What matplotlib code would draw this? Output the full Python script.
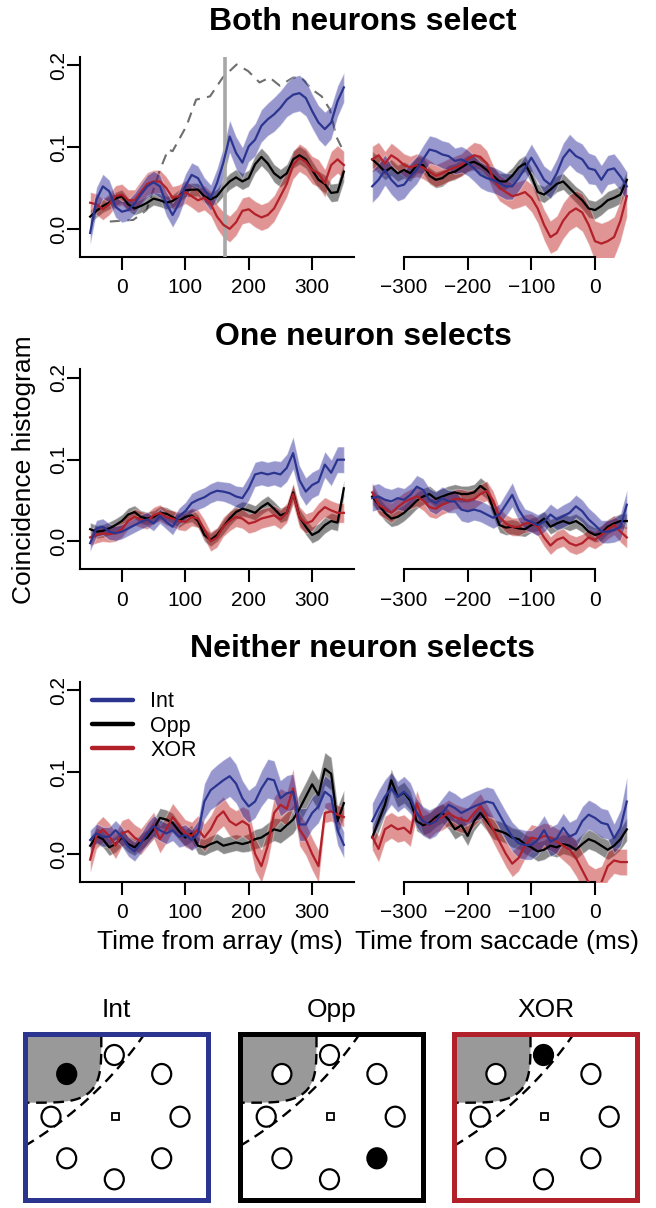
import matplotlib
matplotlib.use('Agg')
import matplotlib.pyplot as plt
from matplotlib.patches import Rectangle, Ellipse, Polygon
from matplotlib.lines import Line2D
import numpy as np

plt.rcParams['font.family'] = ['Liberation Sans', 'DejaVu Sans']

# time axes (ms)
t_array = list(range(-50, 351, 10))
t_sacc = list(range(-350, 51, 10))

# ---- Both neurons select ----
both_arr_int = [-0.005, 0.036, 0.052, 0.046, 0.027, 0.021, 0.023, 0.031, 0.042, 0.052,
                0.057, 0.052, 0.031, 0.017, 0.031, 0.052, 0.066, 0.062, 0.048, 0.038,
                0.056, 0.081, 0.113, 0.093, 0.081, 0.101, 0.109, 0.126, 0.134, 0.140,
                0.148, 0.158, 0.164, 0.166, 0.160, 0.144, 0.130, 0.122, 0.130, 0.156, 0.173]
both_arr_int_se = [0.014, 0.015, 0.015, 0.014, 0.013, 0.013, 0.013, 0.013, 0.013, 0.014,
                   0.014, 0.014, 0.015, 0.015, 0.015, 0.015, 0.015, 0.015, 0.015, 0.016,
                   0.018, 0.019, 0.020, 0.020, 0.019, 0.019, 0.020, 0.020, 0.020, 0.021,
                   0.021, 0.021, 0.022, 0.022, 0.022, 0.021, 0.021, 0.021, 0.020, 0.019, 0.018]
both_arr_opp = [0.015, 0.022, 0.028, 0.032, 0.037, 0.040, 0.030, 0.025, 0.028, 0.032,
                0.037, 0.035, 0.032, 0.034, 0.040, 0.047, 0.048, 0.048, 0.040, 0.036,
                0.040, 0.050, 0.058, 0.063, 0.058, 0.062, 0.079, 0.088, 0.080, 0.068,
                0.062, 0.068, 0.085, 0.090, 0.085, 0.072, 0.060, 0.055, 0.044, 0.045, 0.070]
both_arr_opp_se = [0.008, 0.008, 0.008, 0.008, 0.008, 0.008, 0.008, 0.008, 0.008, 0.008,
                   0.008, 0.008, 0.008, 0.008, 0.008, 0.008, 0.008, 0.008, 0.008, 0.008,
                   0.009, 0.010, 0.010, 0.010, 0.010, 0.010, 0.011, 0.011, 0.011, 0.011,
                   0.011, 0.011, 0.011, 0.011, 0.011, 0.011, 0.011, 0.011, 0.011, 0.011, 0.012]
both_arr_xor = [0.032, 0.030, 0.024, 0.030, 0.040, 0.042, 0.035, 0.035, 0.045, 0.055,
                0.058, 0.058, 0.050, 0.038, 0.040, 0.045, 0.040, 0.035, 0.038, 0.031,
                0.015, 0.005, 0.000, 0.008, 0.022, 0.024, 0.018, 0.014, 0.017, 0.025,
                0.040, 0.055, 0.078, 0.087, 0.082, 0.072, 0.068, 0.056, 0.078, 0.085, 0.078]
both_arr_xor_se = [0.013, 0.013, 0.013, 0.013, 0.013, 0.013, 0.013, 0.013, 0.014, 0.014,
                   0.014, 0.014, 0.014, 0.014, 0.014, 0.014, 0.014, 0.015, 0.015, 0.015,
                   0.015, 0.016, 0.016, 0.016, 0.016, 0.016, 0.016, 0.016, 0.016, 0.016,
                   0.016, 0.016, 0.017, 0.017, 0.017, 0.017, 0.017, 0.017, 0.017, 0.017, 0.017]

both_sac_int = [0.052, 0.060, 0.072, 0.060, 0.052, 0.054, 0.064, 0.072, 0.085, 0.097,
                0.095, 0.091, 0.089, 0.083, 0.085, 0.081, 0.074, 0.066, 0.062, 0.060,
                0.056, 0.052, 0.052, 0.062, 0.074, 0.087, 0.074, 0.060, 0.054, 0.068,
                0.087, 0.097, 0.089, 0.085, 0.074, 0.072, 0.060, 0.072, 0.074, 0.064, 0.052]
both_sac_int_se = [0.020, 0.020, 0.019, 0.018, 0.018, 0.017, 0.017, 0.017, 0.017, 0.017,
                   0.017, 0.017, 0.017, 0.016, 0.016, 0.016, 0.016, 0.016, 0.016, 0.016,
                   0.016, 0.016, 0.016, 0.016, 0.016, 0.017, 0.017, 0.017, 0.017, 0.018,
                   0.018, 0.019, 0.019, 0.019, 0.019, 0.018, 0.018, 0.018, 0.018, 0.018, 0.018]
both_sac_opp = [0.085, 0.078, 0.070, 0.075, 0.068, 0.072, 0.068, 0.078, 0.078, 0.065,
                0.060, 0.062, 0.068, 0.070, 0.075, 0.080, 0.082, 0.078, 0.072, 0.065,
                0.058, 0.058, 0.065, 0.075, 0.080, 0.065, 0.045, 0.042, 0.048, 0.055,
                0.058, 0.050, 0.042, 0.035, 0.025, 0.023, 0.028, 0.035, 0.038, 0.042, 0.060]
both_sac_opp_se = [0.010, 0.010, 0.010, 0.010, 0.010, 0.010, 0.010, 0.010, 0.010, 0.010,
                   0.010, 0.010, 0.010, 0.010, 0.010, 0.010, 0.010, 0.010, 0.010, 0.010,
                   0.010, 0.010, 0.010, 0.010, 0.010, 0.010, 0.010, 0.010, 0.010, 0.010,
                   0.010, 0.010, 0.010, 0.011, 0.011, 0.011, 0.011, 0.011, 0.011, 0.011, 0.011]
both_sac_xor = [0.085, 0.090, 0.080, 0.090, 0.085, 0.078, 0.075, 0.078, 0.075, 0.070,
                0.065, 0.068, 0.072, 0.075, 0.078, 0.085, 0.090, 0.088, 0.080, 0.062,
                0.050, 0.045, 0.040, 0.042, 0.045, 0.038, 0.025, 0.005, -0.010, -0.005,
                0.010, 0.020, 0.025, 0.020, 0.005, -0.015, -0.018, -0.015, -0.010, 0.010, 0.040]
both_sac_xor_se = [0.016, 0.016, 0.015, 0.015, 0.014, 0.014, 0.014, 0.014, 0.014, 0.014,
                   0.014, 0.014, 0.014, 0.014, 0.014, 0.015, 0.016, 0.016, 0.016, 0.016,
                   0.016, 0.016, 0.016, 0.016, 0.016, 0.017, 0.018, 0.019, 0.020, 0.021,
                   0.022, 0.022, 0.022, 0.023, 0.024, 0.025, 0.025, 0.025, 0.025, 0.025, 0.025]

# firing rate trace (scaled), both-select array panel
rate_t = [-19, 18, 39, 60, 73, 80, 102, 117, 139, 159, 181, 199, 217, 233, 249,
          270, 283, 299, 315, 328, 338, 348]
rate_v = [0.009, 0.011, 0.023, 0.072, 0.097, 0.095, 0.126, 0.158, 0.162, 0.185, 0.201,
          0.193, 0.179, 0.185, 0.175, 0.185, 0.185, 0.171, 0.162, 0.146, 0.113, 0.097]
sel_time = 162

# ---- One neuron selects ----
one_arr_int = [-0.002, 0.016, 0.018, 0.012, 0.010, 0.012, 0.016, 0.020, 0.024, 0.027,
               0.022, 0.031, 0.024, 0.018, 0.031, 0.037, 0.047, 0.051, 0.054, 0.059,
               0.062, 0.061, 0.059, 0.055, 0.053, 0.065, 0.082, 0.084, 0.082, 0.084,
               0.082, 0.090, 0.108, 0.075, 0.061, 0.069, 0.073, 0.094, 0.084, 0.100, 0.100]
one_arr_int_se = [0.010, 0.010, 0.010, 0.010, 0.009, 0.009, 0.009, 0.009, 0.009, 0.009,
                  0.009, 0.009, 0.009, 0.010, 0.010, 0.011, 0.012, 0.012, 0.012, 0.012,
                  0.012, 0.012, 0.013, 0.013, 0.014, 0.015, 0.015, 0.015, 0.015, 0.015,
                  0.016, 0.017, 0.020, 0.018, 0.017, 0.016, 0.016, 0.016, 0.016, 0.016, 0.016]
one_arr_opp = [0.015, 0.012, 0.013, 0.016, 0.020, 0.025, 0.033, 0.036, 0.030, 0.028,
               0.030, 0.035, 0.034, 0.030, 0.025, 0.030, 0.032, 0.025, 0.008, 0.002,
               0.008, 0.018, 0.028, 0.036, 0.040, 0.038, 0.035, 0.042, 0.047, 0.040,
               0.032, 0.035, 0.060, 0.030, 0.018, 0.008, 0.012, 0.020, 0.025, 0.023, 0.065]
one_arr_opp_se = [0.008, 0.008, 0.008, 0.008, 0.008, 0.008, 0.008, 0.008, 0.008, 0.008,
                  0.008, 0.008, 0.008, 0.008, 0.008, 0.008, 0.008, 0.008, 0.008, 0.008,
                  0.008, 0.009, 0.009, 0.009, 0.009, 0.009, 0.009, 0.009, 0.009, 0.009,
                  0.009, 0.009, 0.010, 0.010, 0.010, 0.010, 0.010, 0.010, 0.010, 0.010, 0.010]
one_arr_xor = [0.005, 0.008, 0.010, 0.009, 0.010, 0.015, 0.025, 0.030, 0.027, 0.025,
               0.032, 0.035, 0.030, 0.028, 0.025, 0.024, 0.030, 0.028, 0.015, 0.000,
               0.005, 0.018, 0.025, 0.030, 0.028, 0.022, 0.024, 0.028, 0.030, 0.032,
               0.027, 0.035, 0.058, 0.030, 0.022, 0.025, 0.035, 0.042, 0.038, 0.035, 0.035]
one_arr_xor_se = [0.010, 0.010, 0.010, 0.010, 0.010, 0.010, 0.010, 0.010, 0.010, 0.010,
                  0.010, 0.010, 0.010, 0.010, 0.011, 0.011, 0.011, 0.011, 0.012, 0.012,
                  0.012, 0.012, 0.012, 0.012, 0.012, 0.012, 0.012, 0.012, 0.012, 0.012,
                  0.012, 0.012, 0.013, 0.013, 0.012, 0.012, 0.012, 0.012, 0.012, 0.012, 0.012]

one_sac_int = [0.053, 0.055, 0.051, 0.049, 0.053, 0.051, 0.057, 0.067, 0.063, 0.051,
               0.047, 0.053, 0.049, 0.049, 0.039, 0.037, 0.039, 0.037, 0.033, 0.029,
               0.033, 0.045, 0.057, 0.039, 0.027, 0.024, 0.020, 0.024, 0.033, 0.027,
               0.031, 0.035, 0.043, 0.037, 0.027, 0.020, 0.012, 0.012, 0.014, 0.018, 0.045]
one_sac_int_se = [0.016, 0.016, 0.015, 0.015, 0.014, 0.014, 0.014, 0.014, 0.014, 0.014,
                  0.014, 0.014, 0.014, 0.014, 0.014, 0.014, 0.013, 0.013, 0.013, 0.013,
                  0.013, 0.014, 0.015, 0.014, 0.013, 0.013, 0.013, 0.013, 0.013, 0.013,
                  0.014, 0.014, 0.014, 0.014, 0.014, 0.014, 0.014, 0.014, 0.015, 0.016, 0.018]
one_sac_opp = [0.055, 0.045, 0.035, 0.028, 0.030, 0.035, 0.042, 0.050, 0.055, 0.058,
               0.052, 0.055, 0.058, 0.060, 0.058, 0.058, 0.060, 0.068, 0.062, 0.040,
               0.020, 0.017, 0.018, 0.016, 0.015, 0.020, 0.022, 0.028, 0.018, 0.022,
               0.025, 0.022, 0.025, 0.020, 0.012, 0.008, 0.010, 0.018, 0.022, 0.025, 0.025]
one_sac_opp_se = [0.010, 0.010, 0.010, 0.010, 0.010, 0.010, 0.010, 0.010, 0.010, 0.010,
                  0.010, 0.010, 0.010, 0.010, 0.010, 0.010, 0.010, 0.010, 0.010, 0.010,
                  0.009, 0.009, 0.009, 0.009, 0.009, 0.009, 0.009, 0.009, 0.009, 0.009,
                  0.009, 0.009, 0.009, 0.009, 0.009, 0.009, 0.009, 0.009, 0.009, 0.009, 0.009]
one_sac_xor = [0.060, 0.045, 0.040, 0.035, 0.042, 0.048, 0.052, 0.055, 0.050, 0.042,
               0.040, 0.045, 0.048, 0.052, 0.052, 0.050, 0.052, 0.058, 0.062, 0.050,
               0.030, 0.022, 0.018, 0.018, 0.022, 0.023, 0.018, 0.005, -0.005, 0.002,
               0.005, -0.002, -0.005, -0.002, 0.005, 0.002, 0.008, 0.015, 0.020, 0.012, 0.005]
one_sac_xor_se = [0.012, 0.012, 0.012, 0.012, 0.012, 0.012, 0.012, 0.012, 0.012, 0.012,
                  0.012, 0.012, 0.012, 0.012, 0.012, 0.012, 0.012, 0.012, 0.012, 0.012,
                  0.011, 0.011, 0.011, 0.011, 0.011, 0.011, 0.011, 0.011, 0.011, 0.011,
                  0.011, 0.011, 0.011, 0.011, 0.011, 0.011, 0.012, 0.012, 0.012, 0.013, 0.013]

# ---- Neither neuron selects ----
nei_arr_int = [0.017, 0.025, 0.021, 0.021, 0.029, 0.021, 0.009, 0.003, 0.013, 0.025,
               0.034, 0.029, 0.025, 0.029, 0.021, 0.023, 0.017, 0.025, 0.064, 0.078,
               0.084, 0.090, 0.095, 0.086, 0.068, 0.058, 0.064, 0.080, 0.092, 0.090,
               0.068, 0.074, 0.076, 0.036, 0.036, 0.050, 0.058, 0.076, 0.070, 0.029, 0.011]
nei_arr_int_se = [0.012, 0.012, 0.012, 0.012, 0.012, 0.012, 0.012, 0.012, 0.012, 0.013,
                  0.013, 0.013, 0.013, 0.013, 0.013, 0.013, 0.013, 0.016, 0.022, 0.024,
                  0.025, 0.025, 0.025, 0.024, 0.022, 0.020, 0.020, 0.022, 0.024, 0.024,
                  0.022, 0.022, 0.022, 0.020, 0.020, 0.020, 0.020, 0.020, 0.020, 0.018, 0.016]
nei_arr_opp = [0.010, 0.022, 0.018, 0.008, 0.012, 0.020, 0.012, 0.008, 0.015, 0.020,
               0.030, 0.044, 0.042, 0.038, 0.028, 0.020, 0.025, 0.010, 0.008, 0.012,
               0.015, 0.010, 0.012, 0.014, 0.012, 0.014, 0.018, 0.020, 0.025, 0.030,
               0.028, 0.035, 0.042, 0.055, 0.070, 0.085, 0.072, 0.104, 0.098, 0.040, 0.062]
nei_arr_opp_se = [0.010, 0.010, 0.010, 0.010, 0.010, 0.010, 0.010, 0.010, 0.010, 0.010,
                  0.012, 0.012, 0.012, 0.012, 0.011, 0.010, 0.010, 0.010, 0.010, 0.010,
                  0.010, 0.010, 0.010, 0.010, 0.010, 0.011, 0.012, 0.012, 0.013, 0.014,
                  0.015, 0.016, 0.017, 0.018, 0.018, 0.019, 0.019, 0.020, 0.020, 0.018, 0.016]
nei_arr_xor = [-0.007, 0.022, 0.030, 0.022, 0.010, 0.025, 0.028, 0.020, 0.015, 0.025,
               0.035, 0.018, 0.030, 0.045, 0.035, 0.025, 0.022, 0.030, 0.020, 0.030,
               0.045, 0.052, 0.040, 0.035, 0.040, 0.035, 0.000, -0.015, 0.010, 0.050,
               0.060, 0.055, 0.080, 0.030, 0.018, 0.000, -0.015, 0.050, 0.052, 0.048, 0.045]
nei_arr_xor_se = [0.016, 0.016, 0.016, 0.016, 0.016, 0.016, 0.016, 0.016, 0.016, 0.016,
                  0.016, 0.017, 0.017, 0.017, 0.017, 0.017, 0.017, 0.017, 0.017, 0.017,
                  0.018, 0.018, 0.018, 0.018, 0.018, 0.019, 0.020, 0.020, 0.020, 0.020,
                  0.020, 0.021, 0.024, 0.020, 0.020, 0.020, 0.020, 0.012, 0.012, 0.012, 0.012]

nei_sac_int = [0.040, 0.056, 0.070, 0.080, 0.070, 0.076, 0.068, 0.050, 0.040, 0.036,
               0.040, 0.050, 0.060, 0.056, 0.050, 0.054, 0.058, 0.061, 0.064, 0.062,
               0.048, 0.034, 0.021, 0.013, 0.011, 0.011, 0.017, 0.029, 0.015, 0.019,
               0.032, 0.021, 0.025, 0.040, 0.048, 0.044, 0.038, 0.036, 0.019, 0.032, 0.064]
nei_sac_int_se = [0.022, 0.022, 0.021, 0.020, 0.019, 0.019, 0.019, 0.018, 0.018, 0.018,
                  0.018, 0.018, 0.018, 0.018, 0.018, 0.018, 0.018, 0.018, 0.018, 0.018,
                  0.018, 0.018, 0.018, 0.018, 0.018, 0.018, 0.018, 0.018, 0.018, 0.018,
                  0.018, 0.018, 0.018, 0.018, 0.018, 0.018, 0.018, 0.018, 0.018, 0.022, 0.030]
nei_sac_opp = [0.020, 0.040, 0.060, 0.090, 0.070, 0.075, 0.065, 0.040, 0.035, 0.038,
               0.045, 0.050, 0.042, 0.030, 0.035, 0.022, 0.040, 0.050, 0.040, 0.030,
               0.028, 0.025, 0.020, 0.018, 0.012, 0.008, 0.003, 0.005, 0.010, 0.008,
               0.012, 0.010, 0.005, 0.012, 0.018, 0.015, 0.010, 0.005, 0.010, 0.018, 0.030]
nei_sac_opp_se = [0.013, 0.013, 0.013, 0.014, 0.013, 0.013, 0.012, 0.012, 0.012, 0.012,
                  0.012, 0.012, 0.012, 0.012, 0.012, 0.012, 0.012, 0.012, 0.012, 0.012,
                  0.012, 0.012, 0.012, 0.012, 0.012, 0.012, 0.012, 0.012, 0.012, 0.012,
                  0.012, 0.012, 0.012, 0.012, 0.012, 0.012, 0.012, 0.012, 0.012, 0.013, 0.014]
nei_sac_xor = [0.021, 0.006, 0.030, 0.035, 0.030, 0.032, 0.025, 0.062, 0.040, 0.035,
               0.042, 0.045, 0.050, 0.045, 0.042, 0.040, 0.050, 0.058, 0.045, 0.030,
               0.015, 0.000, -0.012, -0.005, 0.010, 0.020, 0.018, 0.022, 0.020, 0.015,
               0.010, 0.005, -0.005, -0.020, -0.035, -0.040, -0.035, -0.015, -0.008, -0.010, -0.010]
nei_sac_xor_se = [0.016, 0.016, 0.016, 0.016, 0.016, 0.016, 0.016, 0.016, 0.016, 0.016,
                  0.016, 0.016, 0.016, 0.016, 0.016, 0.016, 0.016, 0.016, 0.016, 0.016,
                  0.016, 0.016, 0.016, 0.016, 0.016, 0.016, 0.016, 0.016, 0.016, 0.016,
                  0.018, 0.020, 0.022, 0.022, 0.022, 0.022, 0.020, 0.018, 0.016, 0.016, 0.016]

row_titles = ['Both neurons select', 'One neuron selects', 'Neither neuron selects']
cond_names = ['Int', 'Opp', 'XOR']

# schematic: stimulus ring positions inside a box (px, from box top-left)
stim_x = [92.0, 139.4, 157.7, 139.4, 92.0, 44.4, 28.7, 44.4]
stim_y = [23.3, 42.3, 85.0, 126.6, 147.6, 126.6, 85.0, 42.3]
target_idx = [7, 3, 0]   # filled stimulus for Int, Opp, XOR

c_int = '#2B3590'
c_opp = '#000000'
c_xor = '#B2202A'
band_int = (0.16, 0.16, 0.60, 0.48)
band_opp = (0.0, 0.0, 0.0, 0.45)
band_xor = (0.75, 0.12, 0.12, 0.48)

W, H = 656.0, 1208.0
fig = plt.figure(figsize=(6.56, 12.08), dpi=100)


def px_axes(left, top, width, height):
    return fig.add_axes([left / W, 1 - (top + height) / H, width / W, height / H])


def draw_series(ax, t, mean, se, c_line, c_band):
    m = np.array(mean)
    s = np.array(se)
    ax.fill_between(t, m - s, m + s, facecolor=c_band,
                    edgecolor=(1, 1, 1, 0.35), linewidth=0.8, zorder=2)
    ax.plot(t, m, color=c_line, lw=1.6, zorder=4)


def style_left(ax):
    ax.set_xlim(-66, 366)
    ax.set_ylim(-0.034, 0.2105)
    for sp in ['top', 'right']:
        ax.spines[sp].set_visible(False)
    for sp in ['left', 'bottom']:
        ax.spines[sp].set_linewidth(1.5)
    ax.set_xticks([0, 100, 200, 300])
    ax.set_yticks([0, 0.1, 0.2])
    ax.set_yticklabels(['0.0', '0.1', '0.2'], rotation=90, va='center')
    ax.tick_params(axis='x', length=9.4, width=1.5, labelsize=15, pad=6)
    ax.tick_params(axis='y', length=9.4, width=1.5, labelsize=15, pad=-1)
    ax.patch.set_alpha(0)


def style_right(ax):
    ax.set_xlim(-366, 66)
    ax.set_ylim(-0.034, 0.2105)
    for sp in ['top', 'right', 'left']:
        ax.spines[sp].set_visible(False)
    ax.spines['bottom'].set_linewidth(1.5)
    ax.spines['bottom'].set_bounds(-300, 0)
    ax.set_xticks([-300, -200, -100, 0])
    ax.set_xticklabels(['\u2212300', '\u2212200', '\u2212100', '0'])
    ax.set_yticks([])
    ax.tick_params(axis='x', length=9.4, width=1.5, labelsize=15, pad=6)
    ax.patch.set_alpha(0)


rows = [
    ((both_arr_opp, both_arr_opp_se, both_arr_xor, both_arr_xor_se, both_arr_int, both_arr_int_se),
     (both_sac_opp, both_sac_opp_se, both_sac_xor, both_sac_xor_se, both_sac_int, both_sac_int_se)),
    ((one_arr_opp, one_arr_opp_se, one_arr_xor, one_arr_xor_se, one_arr_int, one_arr_int_se),
     (one_sac_opp, one_sac_opp_se, one_sac_xor, one_sac_xor_se, one_sac_int, one_sac_int_se)),
    ((nei_arr_opp, nei_arr_opp_se, nei_arr_xor, nei_arr_xor_se, nei_arr_int, nei_arr_int_se),
     (nei_sac_opp, nei_sac_opp_se, nei_sac_xor, nei_sac_xor_se, nei_sac_int, nei_sac_int_se)),
]
row_tops = [56.7, 369.3, 681.7]
title_y = [22, 337, 649]

for i, (arr, sac) in enumerate(rows):
    axl = px_axes(80, row_tops[i], 274, 200)
    axr = px_axes(362, row_tops[i], 275, 200)
    if i == 0:
        axl.plot(rate_t, rate_v, color='#6E6E6E', lw=1.5, dashes=(5, 3.5), zorder=1)
        axl.axvline(sel_time, color='#A8A8A8', lw=2.6, zorder=3)
    for ax, t, d in [(axl, t_array, arr), (axr, t_sacc, sac)]:
        draw_series(ax, t, d[0], d[1], c_opp, band_opp)
        draw_series(ax, t, d[2], d[3], c_xor, band_xor)
        draw_series(ax, t, d[4], d[5], c_int, band_int)
    style_left(axl)
    style_right(axr)
    fig.text(363 / W, 1 - title_y[i] / H, row_titles[i], ha='center', va='center',
             fontsize=23, fontweight='bold')
    if i == 2:
        handles = [Line2D([], [], color=c, lw=3.2, solid_capstyle='round')
                   for c in [c_int, c_opp, c_xor]]
        axl.legend(handles, cond_names, loc='upper left', bbox_to_anchor=(0.0, 1.012),
                   frameon=False, fontsize=15.5, handlelength=1.9, handletextpad=0.8,
                   labelspacing=0.15, borderaxespad=0.0, borderpad=0.56)

fig.text(24 / W, 1 - 470 / H, 'Coincidence histogram', rotation=90,
         ha='center', va='center', fontsize=19)
fig.text(220 / W, 1 - 942 / H, 'Time from array (ms)', ha='center', va='center', fontsize=19)
fig.text(497 / W, 1 - 942 / H, 'Time from saccade (ms)', ha='center', va='center', fontsize=19)

# ---- schematic boxes ----
sax = fig.add_axes([0, 0, 1, 1])
sax.set_xlim(0, W)
sax.set_ylim(H, 0)
sax.axis('off')
sax.patch.set_alpha(0)

box_left = [22.3, 237.5, 451.5]
box_top = 1031.7
box_w, box_h = 188.0, 171.0
box_colors = [c_int, c_opp, c_xor]

theta = np.linspace(0, np.pi / 2, 80)
n_se = 4.0
rf_a, rf_b = 74.0, 66.0
rf_x = 5 + rf_a * np.cos(theta) ** (2 / n_se)
rf_y = 5 + rf_b * np.sin(theta) ** (2 / n_se)
arc_t = np.linspace(np.radians(34.6), np.radians(58.8), 60)
arc_x = -196 + 387 * np.cos(arc_t)
arc_y = -218 + 387 * np.sin(arc_t)

for b, bl in enumerate(box_left):
    poly = np.column_stack([np.concatenate([[bl + 5], bl + rf_x]),
                            np.concatenate([[box_top + 5], box_top + rf_y])])
    sax.add_patch(Polygon(poly, closed=True, facecolor='#999999', edgecolor='none', zorder=1))
    sax.plot(bl + rf_x, box_top + rf_y, color='black', lw=1.7, dashes=(4.5, 2.8), zorder=2)
    sax.plot(bl + arc_x, box_top + arc_y, color='black', lw=1.7, dashes=(4.5, 2.8), zorder=2)
    for k in range(len(stim_x)):
        fc = 'black' if k == target_idx[b] else 'white'
        sax.add_patch(Ellipse((bl + stim_x[k], box_top + stim_y[k]), 19, 20,
                              facecolor=fc, edgecolor='black', lw=1.6, zorder=3))
    sax.add_patch(Rectangle((bl + 93.4 - 3.5, box_top + 85 - 3.5), 7, 7,
                            facecolor='white', edgecolor='black', lw=1.3, zorder=3))
    sax.add_patch(Rectangle((bl + 2.5, box_top + 2.5), box_w - 5, box_h - 5,
                            facecolor='none', edgecolor=box_colors[b], lw=3.6, zorder=4))
    fig.text((bl + box_w / 2) / W, 1 - 1010 / H, cond_names[b], ha='center', va='center',
             fontsize=19)

fig.savefig('out.png', dpi=100)
